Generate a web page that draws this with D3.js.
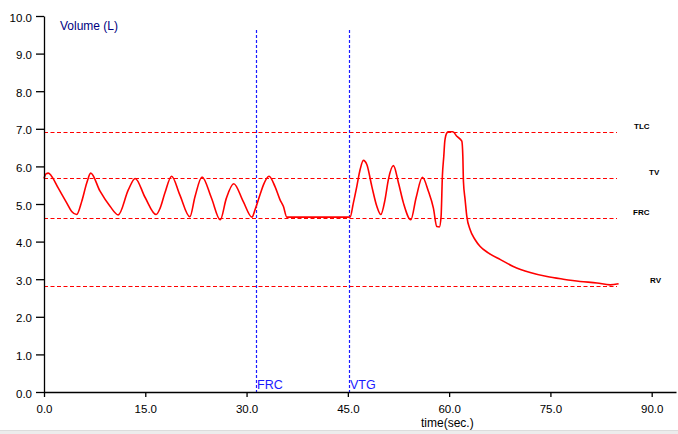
<!DOCTYPE html>
<html>
<head>
<meta charset="utf-8">
<script src="https://cdn.jsdelivr.net/npm/d3@7"></script>
<style>
  html, body { margin: 0; padding: 0; background: #fff; }
  svg { display: block; font-family: "Liberation Sans", Arial, sans-serif; }
</style>
</head>
<body>
<svg id="chart" width="678" height="434"></svg>
<script>
// ---- data ----
const xTicks = [0, 15, 30, 45, 60, 75, 90];
const yTicks = [0, 1, 2, 3, 4, 5, 6, 7, 8, 9, 10];
const time = [0.0, 0.3, 0.64, 1.04, 2.12, 3.36, 4.10, 4.84, 5.59, 6.33, 6.92, 8.30, 9.78, 11.0,
  12.5, 13.5, 14.96, 16.6, 17.2, 17.9, 18.9, 20.1, 21.6, 22.37, 23.4, 24.8, 26.1, 27.0, 28.1, 29.5,
  30.8, 31.26, 32.0, 32.5, 33.33, 34.2, 34.96, 35.45, 35.96, 45.33, 45.82, 46.33, 46.81, 47.3,
  47.81, 48.55, 49.29, 49.88, 50.5, 51.0, 51.75, 52.5, 53.23, 54.33, 55.1, 56.04, 56.93, 57.67,
  58.18, 58.56, 58.81, 59.0, 59.21, 59.36, 59.66, 59.9, 60.55, 61.14, 61.88, 62.03, 62.12, 62.37,
  62.62, 63.1, 63.85, 64.6, 65.8, 67.6, 69.5, 72.0, 74.5, 76.9, 79.4, 81.9, 83.85, 85.1];
const volume = [5.68, 5.80, 5.82, 5.76, 5.42, 5.03, 4.80, 4.72, 5.07, 5.56, 5.82, 5.34, 4.94, 4.71,
  5.38, 5.68, 5.18, 4.72, 4.89, 5.29, 5.74, 5.25, 4.66, 5.20, 5.72, 5.16, 4.58, 5.15, 5.54, 5.07,
  4.65, 4.85, 5.25, 5.51, 5.74, 5.47, 5.11, 4.94, 4.65, 4.65, 5.03, 5.47, 5.91, 6.16,
  6.05, 5.47, 4.94, 4.72, 5.11, 5.65, 6.02, 5.56, 5.03, 4.58, 5.16, 5.71, 5.34, 4.89,
  4.40, 4.39, 4.67, 5.74, 6.27, 6.67, 6.89, 6.92, 6.92, 6.80, 6.67, 6.27, 5.60, 5.11,
  4.67, 4.32, 4.05, 3.87, 3.70, 3.52, 3.34, 3.18, 3.07, 3.00, 2.94, 2.90, 2.85, 2.88];
const refNames = ["TLC", "TV", "FRC", "RV"];
const refValues = [6.92, 5.69, 4.63, 2.83];
const markerNames = ["FRC", "VTG"];
const markerTimes = [31.4, 45.1];

// ---- layout ----
const svg = d3.select("#chart");
const x = d3.scaleLinear().domain([0, 93.6]).range([44, 676]);
const y = d3.scaleLinear().domain([0, 10]).range([392, 16]);
const fmt = d3.format(".1f");

// bottom gray strip
svg.append("rect").attr("x", 0).attr("y", 431).attr("width", 678).attr("height", 3).attr("fill", "#ececec");
svg.append("line").attr("x1", 0).attr("x2", 678).attr("y1", 430.5).attr("y2", 430.5).attr("stroke", "#dcdcdc");

// reference lines
const refLineEnd = 617;
refValues.forEach((v, i) => {
  svg.append("line")
    .attr("x1", x(0)).attr("x2", refLineEnd)
    .attr("y1", Math.round(y(v)) + 0.5).attr("y2", Math.round(y(v)) + 0.5)
    .attr("stroke", "#ff0000").attr("stroke-width", 1.2)
    .attr("stroke-dasharray", "4,2.5");
});
const refLabelX = [634, 649, 633, 650];
const refLabelDy = [-2.5, -2.6, -2.6, -2.2];
refNames.forEach((n, i) => {
  svg.append("text")
    .attr("x", refLabelX[i]).attr("y", y(refValues[i]) + refLabelDy[i])
    .attr("font-size", 8).attr("font-weight", "bold").attr("fill", "#000")
    .text(n);
});

// vertical markers
markerTimes.forEach((t, i) => {
  svg.append("line")
    .attr("x1", Math.round(x(t)) + 0.5).attr("x2", Math.round(x(t)) + 0.5)
    .attr("y1", 30).attr("y2", 392)
    .attr("stroke", "#1a1aff").attr("stroke-width", 1.2)
    .attr("stroke-dasharray", "3,2");
  svg.append("text")
    .attr("x", Math.round(x(t)) + 1).attr("y", 389)
    .attr("font-size", 12.5).attr("fill", "#1a1aff")
    .text(markerNames[i]);
});

// curve
const pts = time.map((t, i) => [t, volume[i]]);
svg.append("path")
  .datum(pts)
  .attr("fill", "none")
  .attr("stroke", "#ff0000")
  .attr("stroke-width", 1.6)
  .attr("stroke-linejoin", "round")
  .attr("d", d3.line().x(d => x(d[0])).y(d => y(d[1])).curve(d3.curveMonotoneX));

// axes
const yAxis = svg.append("g")
  .attr("transform", `translate(${x(0)},0)`)
  .call(d3.axisLeft(y).tickValues(yTicks).tickFormat(fmt).tickSize(8).tickSizeOuter(0).tickPadding(4));
const xAxis = svg.append("g")
  .attr("transform", `translate(0,${y(0)})`)
  .call(d3.axisBottom(x).tickValues(xTicks).tickFormat(fmt).tickSize(5).tickSizeOuter(0).tickPadding(8));
[xAxis, yAxis].forEach(a => {
  a.selectAll("text").attr("font-size", 11.5).attr("fill", "#000")
    .attr("font-family", "Liberation Sans, Arial, sans-serif");
  a.selectAll("path, line").attr("stroke", "#000").attr("stroke-width", 1.3);
});
yAxis.selectAll("text").attr("dy", "0.45em");

// titles
svg.append("text").attr("x", 60).attr("y", 29.5)
  .attr("font-size", 12).attr("fill", "#000080").text("Volume (L)");
svg.append("text").attr("x", 421).attr("y", 427)
  .attr("font-size", 12).attr("fill", "#000").text("time(sec.)");
</script>
</body>
</html>
